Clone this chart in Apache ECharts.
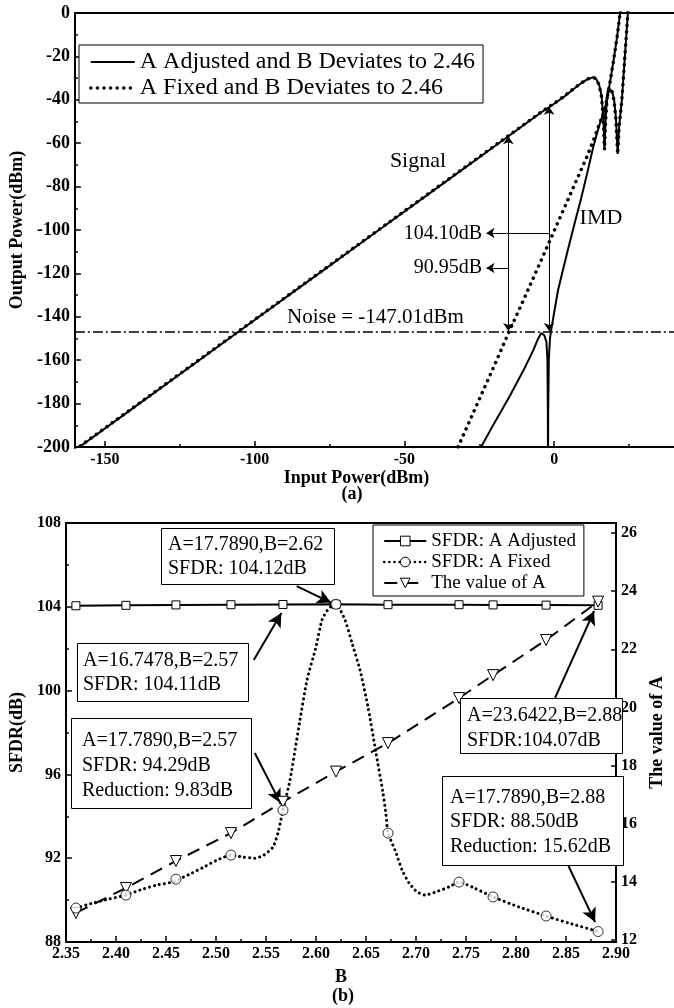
<!DOCTYPE html>
<html><head><meta charset="utf-8">
<script src="https://cdn.jsdelivr.net/npm/echarts@6/dist/echarts.min.js"></script>
<style>html,body{margin:0;padding:0;background:#fff}#c{width:674px;height:1008px}</style>
</head><body><div id="c"></div>
<script>
// ---------- Panel (a) data ----------
const sigX = [-160, -140, -120, -100, -80, -60, -40, -20, -10, -4, 0, 3, 6, 9, 11, 13, 14, 15, 15.8, 16.4, 16.8, 17.2, 17.7, 18.2, 18.7, 19.3, 20, 20.6, 21.2, 21.7, 22.6, 23.5, 24.1, 24.6, 25.2];
const sigAdjY = [-201.5, -181.5, -161.5, -141.5, -121.5, -101.5, -81.5, -61.5, -51.5, -45.5, -41.8, -38.9, -35.6, -32.4, -30.6, -29.6, -30.4, -33, -38, -48, -63, -48, -38, -35, -34.6, -36, -40, -48, -65, -52, -40, -22, -10, 0, 10];
const sigFixY = [-201.3, -181.3, -161.3, -141.3, -121.3, -101.3, -81.3, -61.3, -51.3, -45.3, -41.6, -38.7, -35.4, -32.3, -30.5, -29.6, -30.4, -33.2, -38.5, -49, -63, -49, -38.5, -35.2, -34.8, -36.2, -40.5, -49, -65, -52, -40, -22, -10, 0, 10];
const imdAdjX = [-24.6, -20, -15, -10, -7, -5.5, -4.3, -3.3, -2.6, -2.25, -2.1, -2.05, -2.0, -1.8, -1.4, -1, 0, 1.3, 3, 4.6, 7, 8.9, 11, 13, 15, 17, 18.5, 19.7, 21, 22, 23];
const imdAdjY = [-200.5, -189, -177, -164, -155.5, -150.5, -147.5, -148.5, -151.5, -160, -185, -230, -185, -160, -150, -146, -138, -127.6, -118, -109, -96, -86, -74, -62, -52, -44, -33, -23, -11, 0, 11];
const imdFixX = [-32.1, -25, -20, -15.1, -10, -5, -1, 3, 7, 11, 13, 15, 17, 18.5, 19.7, 21, 22, 23];
const imdFixY = [-200, -178, -162.5, -147, -131.5, -116, -103.5, -91, -78.5, -66, -59, -51.5, -44, -33, -23, -11, 0, 11];
const noiseLevel = -147.01;
const xMajorA = [-150, -100, -50, 0];
const xMinorA = [-125, -75, -25, 25];
const legendA = ['A Adjusted and B Deviates to 2.46', 'A Fixed and B Deviates to 2.46'];

// ---------- Panel (b) data ----------
const bPoints = [2.36, 2.41, 2.46, 2.515, 2.567, 2.62, 2.672, 2.743, 2.777, 2.83, 2.882];
const sfdrAdjusted = [104.05, 104.07, 104.09, 104.10, 104.11, 104.12, 104.10, 104.10, 104.09, 104.08, 104.07];
const sfdrFixed = [89.62, 90.24, 91.0, 92.15, 94.29, 104.12, 93.2, 90.86, 90.15, 89.24, 88.50];
const valueA = [12.92, 13.78, 14.71, 15.67, 16.7478, 17.789, 18.77, 20.32, 21.11, 22.32, 23.6422];
const fixedCurveB = [2.36, 2.377, 2.393, 2.41, 2.424, 2.441, 2.457, 2.463, 2.476, 2.488, 2.501, 2.515, 2.527, 2.539, 2.548, 2.557, 2.562, 2.5645, 2.567, 2.574, 2.584, 2.591, 2.600, 2.606, 2.613, 2.62, 2.629, 2.636, 2.644, 2.652, 2.66, 2.667, 2.67, 2.672, 2.679, 2.686, 2.693, 2.701, 2.709, 2.72, 2.733, 2.743, 2.758, 2.777, 2.803, 2.83, 2.853, 2.882];
const fixedCurveSFDR = [89.62, 89.86, 90.05, 90.24, 90.48, 90.72, 90.86, 91.0, 91.29, 91.58, 91.91, 92.15, 92.05, 92.0, 92.15, 92.53, 93.2, 93.73, 94.29, 95.73, 98.6, 100.5, 102.08, 103.37, 103.94, 104.12, 103.37, 102.27, 100.98, 99.22, 97.02, 95.11, 94.06, 93.2, 92.39, 91.44, 90.82, 90.39, 90.24, 90.39, 90.63, 90.86, 90.58, 90.15, 89.67, 89.24, 88.9, 88.50];
const rightTicks = [12, 14, 16, 18, 20, 22, 24, 26];

const F = 'Liberation Serif';
const pairs = (xs, ys) => xs.map((x, i) => [x, ys[i]]);
const tickLbl = {color: '#000', fontFamily: F, fontWeight: 'bold', fontSize: 16};
const nameStyle = {color: '#000', fontFamily: F, fontWeight: 'bold', fontSize: 18};
const axLine = {onZero: false, lineStyle: {color: '#000', width: 2}};
const tickSt = {color: '#000', width: 1.5};
const dotted = (w, gap) => ({color: '#000', width: w, type: [0.1, gap], cap: 'round'});

function txt(text, x, y, size, align, valign, extra) {
  return {type: 'text', z: 100, style: {
    text: text, x: x, y: y, fill: '#000',
    font: (extra && extra.bold ? 'bold ' : '') + size + 'px "Liberation Serif"',
    align: align, textAlign: align, verticalAlign: valign, textVerticalAlign: valign,
    lineHeight: extra && extra.lh ? extra.lh : undefined
  }};
}
function box(x, y, w, h) {
  return {type: 'rect', z: 99, shape: {x: x + 0.5, y: y + 0.5, width: w, height: h},
    style: {fill: '#fff', stroke: '#000', lineWidth: 1}};
}

const arrowA = (p1, p2, s1, s2) => [{coord: p1, symbol: s1}, {coord: p2, symbol: s2}];
const arrowB = (p1, p2) => [{coord: p1, symbol: 'none'}, {coord: p2, symbol: 'arrow'}];

const option = {
  animation: false,
  backgroundColor: '#fff',
  grid: [
    {left: 66, top: 13, right: 0, height: 434},
    {left: 55, top: 523, right: 42, height: 419}
  ],
  xAxis: [
    {gridIndex: 0, type: 'value', min: -160, max: 40, position: 'bottom',
      axisLine: axLine, splitLine: {show: false},
      axisTick: {inside: true, length: 6, customValues: xMajorA, lineStyle: tickSt},
      axisLabel: Object.assign({customValues: xMajorA, margin: 5}, tickLbl),
      name: 'Input Power(dBm)', nameLocation: 'middle', nameGap: 16,
      nameTextStyle: Object.assign({padding: [0, 36, 0, 0], verticalAlign: 'top'}, nameStyle)},
    {gridIndex: 0, type: 'value', min: -160, max: 40, position: 'bottom',
      axisLine: {show: false, onZero: false}, splitLine: {show: false}, axisLabel: {show: false},
      axisTick: {inside: true, length: 3, customValues: xMinorA, lineStyle: tickSt}},
    {gridIndex: 0, type: 'value', min: -160, max: 40, position: 'top',
      axisLine: axLine, splitLine: {show: false}, axisLabel: {show: false}, axisTick: {show: false}},
    {gridIndex: 1, type: 'value', min: 2.35, max: 2.90, interval: 0.05, position: 'bottom',
      axisLine: axLine, splitLine: {show: false},
      axisTick: {inside: true, length: 6, lineStyle: tickSt},
      minorTick: {show: true, splitNumber: 2, length: 3, lineStyle: tickSt},
      axisLabel: Object.assign({margin: 4, formatter: v => v.toFixed(2)}, tickLbl),
      name: 'B', nameLocation: 'middle', nameGap: 26, nameTextStyle: Object.assign({verticalAlign: 'top'}, nameStyle)},
    {gridIndex: 1, type: 'value', min: 2.35, max: 2.90, position: 'top',
      axisLine: axLine, splitLine: {show: false}, axisLabel: {show: false}, axisTick: {show: false}}
  ],
  yAxis: [
    {gridIndex: 0, type: 'value', min: -200, max: 0, interval: 20, position: 'left',
      axisLine: axLine, splitLine: {show: false},
      axisTick: {inside: true, length: 6, lineStyle: tickSt},
      minorTick: {show: true, splitNumber: 2, length: 3, lineStyle: tickSt},
      axisLabel: Object.assign({margin: 5}, tickLbl, {fontSize: 18}),
      name: 'Output Power(dBm)', nameLocation: 'middle', nameGap: 44, nameRotate: 90, nameTextStyle: nameStyle},
    {gridIndex: 1, type: 'value', min: 88, max: 108, interval: 4, position: 'left',
      axisLine: axLine, splitLine: {show: false},
      axisTick: {inside: true, length: 6, lineStyle: tickSt},
      minorTick: {show: true, splitNumber: 2, length: 3, lineStyle: tickSt},
      axisLabel: Object.assign({margin: 5}, tickLbl),
      name: 'SFDR(dB)', nameLocation: 'middle', nameGap: 33, nameRotate: 90, nameTextStyle: nameStyle},
    {gridIndex: 1, type: 'value', min: 11.92, max: 26.35, position: 'right',
      axisLine: axLine, splitLine: {show: false},
      axisTick: {inside: true, length: 5, customValues: rightTicks, lineStyle: tickSt},
      axisLabel: Object.assign({margin: 5, customValues: rightTicks}, tickLbl),
      name: 'The value of A', nameLocation: 'middle', nameGap: 31, nameRotate: 90, nameTextStyle: nameStyle}
  ],
  legend: [
    {left: 79, top: 45, orient: 'vertical', itemWidth: 44, itemHeight: 14, itemGap: 2,
      padding: [5, 8, 3, 10], borderColor: '#000', borderWidth: 1, backgroundColor: '#fff',
      textStyle: {fontFamily: F, fontSize: 24, color: '#000', lineHeight: 24},
      data: [
        {name: legendA[0], itemStyle: {opacity: 0}, lineStyle: {width: 2}},
        {name: legendA[1], itemStyle: {opacity: 0}, lineStyle: {width: 3.5, cap: 'round'}}
      ]},
    {left: 373, top: 525, orient: 'vertical', itemWidth: 42, itemHeight: 12, itemGap: 1,
      padding: [6, 8, 3, 10], borderColor: '#000', borderWidth: 1, backgroundColor: '#fff',
      textStyle: {fontFamily: F, fontSize: 19, color: '#000', lineHeight: 20},
      data: [
        {name: 'SFDR: A Adjusted', lineStyle: {width: 2}, itemStyle: {borderWidth: 1}},
        {name: 'SFDR: A Fixed', lineStyle: {width: 2.5, cap: 'round'}, itemStyle: {borderWidth: 1}},
        {name: 'The value of A', lineStyle: {width: 2}, itemStyle: {borderWidth: 1}}
      ]}
  ],
  series: [
    {name: legendA[0], type: 'line', xAxisIndex: 0, yAxisIndex: 0, data: pairs(sigX, sigAdjY),
      symbol: 'none', lineStyle: {color: '#000', width: 2}, itemStyle: {color: '#000'}, z: 3,
      markLine: {silent: true, symbol: ['none', 'none'], symbolSize: 8, label: {show: false}, emphasis: {disabled: true},
        lineStyle: {color: '#000', width: 1, type: 'solid'},
        data: [
          {yAxis: noiseLevel, lineStyle: {type: [10, 3, 2, 3], width: 1.6}},
          arrowA([-15.3, -56.8], [-15.3, -146.5], 'arrow', 'arrow'),
          arrowA([-1.7, -43.2], [-1.7, -146.5], 'arrow', 'arrow'),
          arrowA([-1.7, -101.4], [-22.6, -101.4], 'none', 'arrow'),
          arrowA([-15.3, -117.5], [-22.6, -117.5], 'none', 'arrow')
        ]}},
    {name: legendA[0], type: 'line', xAxisIndex: 0, yAxisIndex: 0, data: pairs(imdAdjX, imdAdjY),
      symbol: 'none', lineStyle: {color: '#000', width: 2}, itemStyle: {color: '#000'}, z: 3},
    {name: legendA[1], type: 'line', xAxisIndex: 0, yAxisIndex: 0, data: pairs(sigX, sigFixY),
      symbol: 'none', lineStyle: dotted(3.5, 6.5), itemStyle: {color: '#000'}, z: 4},
    {name: legendA[1], type: 'line', xAxisIndex: 0, yAxisIndex: 0, data: pairs(imdFixX, imdFixY),
      symbol: 'none', lineStyle: dotted(3.5, 6.5), itemStyle: {color: '#000'}, z: 4},

    {name: 'SFDR: A Adjusted', type: 'line', xAxisIndex: 3, yAxisIndex: 1, data: pairs(bPoints, sfdrAdjusted),
      symbol: 'rect', symbolSize: 8, itemStyle: {color: '#fff', borderColor: '#000', borderWidth: 1},
      lineStyle: {color: '#000', width: 2}, z: 3,
      markLine: {silent: true, symbolSize: [11, 14], label: {show: false}, emphasis: {disabled: true},
        lineStyle: {color: '#000', width: 2, type: 'solid'},
        data: [
          arrowB([2.5807, 104.99], [2.615, 104.2]),
          arrowB([2.5378, 101.46], [2.5654, 103.7]),
          arrowB([2.5388, 97.02], [2.5645, 94.63]),
          arrowB([2.839, 99.65], [2.878, 103.8]),
          arrowB([2.8524, 91.63], [2.879, 88.95])
        ]}},
    {name: 'SFDR: A Fixed', type: 'line', xAxisIndex: 3, yAxisIndex: 1, data: pairs(fixedCurveB, fixedCurveSFDR),
      symbol: 'circle', showSymbol: false, symbolSize: 10, smooth: 0.2,
      itemStyle: {color: '#fff', borderColor: '#000', borderWidth: 1},
      lineStyle: dotted(3, 5), z: 2},
    {name: 'SFDR: A Fixed', type: 'scatter', xAxisIndex: 3, yAxisIndex: 1, data: pairs(bPoints, sfdrFixed),
      symbol: 'circle', symbolSize: 10, itemStyle: {color: '#fff', borderColor: '#000', borderWidth: 1}, z: 6},
    {name: 'The value of A', type: 'line', xAxisIndex: 3, yAxisIndex: 2, data: pairs(bPoints, valueA),
      symbol: 'triangle', symbolRotate: 180, symbolSize: 11,
      itemStyle: {color: '#fff', borderColor: '#000', borderWidth: 1},
      lineStyle: {color: '#000', width: 2, type: [13, 8]}, z: 5}
  ],
  graphic: [
    txt('Signal', 418, 161, 22, 'center', 'middle'),
    txt('IMD', 601, 218, 22, 'center', 'middle'),
    txt('Noise = -147.01dBm', 287, 317, 21, 'left', 'middle'),
    txt('104.10dB', 482, 234, 20, 'right', 'middle'),
    txt('90.95dB', 482, 268, 20, 'right', 'middle'),
    txt('(a)', 352, 494, 18, 'center', 'middle', {bold: true}),
    txt('(b)', 343, 996, 18, 'center', 'middle', {bold: true}),
    box(161, 528, 173, 56),
    txt('A=17.7890,B=2.62\nSFDR: 104.12dB', 168, 533, 20, 'left', 'top', {lh: 24}),
    box(77, 643, 171, 58),
    txt('A=16.7478,B=2.57\nSFDR: 104.11dB', 83, 649, 20, 'left', 'top', {lh: 24}),
    box(71, 718, 180, 90),
    txt('A=17.7890,B=2.57\nSFDR: 94.29dB\nReduction: 9.83dB', 82, 728, 20, 'left', 'top', {lh: 25}),
    box(460, 698, 162, 55),
    txt('A=23.6422,B=2.88\nSFDR:104.07dB', 467, 703, 20, 'left', 'top', {lh: 25}),
    box(442, 776, 181, 89),
    txt('A=17.7890,B=2.88\nSFDR: 88.50dB\nReduction: 15.62dB', 450, 785, 20, 'left', 'top', {lh: 24.5})
  ]
};
const chart = echarts.init(document.getElementById('c'));
chart.setOption(option);
</script>
</body></html>
